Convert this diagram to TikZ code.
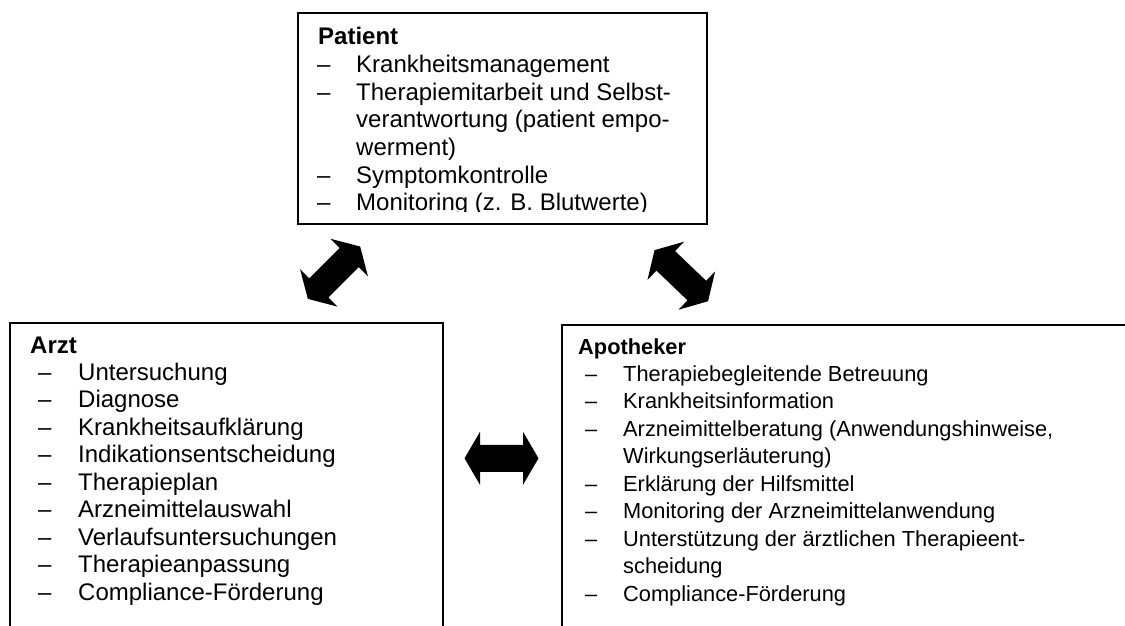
\documentclass[tikz,border=0pt]{standalone}
\usepackage{fontspec}
\setmainfont{Liberation Sans}
\begin{document}
\begin{tikzpicture}[x=1pt,y=-1pt,
  box/.style={draw=black, line width=1.8pt, rectangle, inner sep=0pt, anchor=north west},
  txt/.style={anchor=base west, inner sep=0pt, font=\fontsize{24}{27.5}\selectfont},
  ttl/.style={anchor=base west, inner sep=0pt, font=\fontsize{24}{27.5}\selectfont\bfseries},
  stxt/.style={anchor=base west, inner sep=0pt, font=\fontsize{21.8}{27.5}\selectfont},
  sttl/.style={anchor=base west, inner sep=0pt, font=\fontsize{21.8}{27.5}\selectfont\bfseries},
  blockarrow/.style={fill=black}]
\useasboundingbox (0,0) rectangle (1125,626);
\clip (0,0) rectangle (1125,626);

% boxes
\node[box, minimum width=409pt, minimum height=211pt] (patient) at (297,12) {};
\node[box, minimum width=433pt, minimum height=400pt] (arzt) at (9,322) {};
\node[box, minimum width=620pt, minimum height=400pt] (apotheker) at (561,324) {};

% Patient text (clipped at inner bottom)
\begin{scope}
\clip (297,12) rectangle (706,211);
\node[ttl] (ptitle) at (318,45) {Patient};
\node[txt] (pd1) at (317,73) {–};
\node[txt] (p1) at (356,73) {Krankheitsmanagement};
\node[txt] (pd2) at (317,100.5) {–};
\node[txt] (p2) at (356,100.5) {Therapiemitarbeit und Selbst-};
\node[txt] (p2b) at (356,128) {verantwortung (patient empo-};
\node[txt] (p2c) at (356,155.5) {werment)};
\node[txt] (pd3) at (317,183) {–};
\node[txt] (p3) at (356,183) {Symptomkontrolle};
\node[txt] (pd4) at (317,210.5) {–};
\node[txt] (p4) at (356,210.5) {Monitoring (z. B. Blutwerte)};
\end{scope}

% Arzt text
\node[ttl] (atitle) at (30,353.5) {Arzt};
\foreach \yy/\ttext [count=\i] in {380/{Untersuchung},407.5/{Diagnose},435/{Krankheitsaufklärung},462.5/{Indikationsentscheidung},490/{Therapieplan},517.5/{Arzneimittelauswahl},545/{Verlaufsuntersuchungen},572.5/{Therapieanpassung},600/{Compliance-Förderung}}{
  \node[txt] (ad\i) at (38,\yy) {–};
  \node[txt] (a\i) at (78,\yy) {\ttext};
}

% Apotheker text
\node[sttl] (aptitle) at (578,354) {Apotheker};
\foreach \yy/\ttext [count=\i] in {381/{Therapiebegleitende Betreuung},408.5/{Krankheitsinformation},436/{Arzneimittelberatung (Anwendungshinweise,},491/{Erklärung der Hilfsmittel},518.5/{Monitoring der Arzneimittelanwendung},546/{Unterstützung der ärztlichen Therapieent-},601/{Compliance-Förderung}}{
  \node[stxt] (bd\i) at (585,\yy) {–};
  \node[stxt] (b\i) at (623,\yy) {\ttext};
}
\node[stxt] (b3b) at (623,463.5) {Wirkungserläuterung)};
\node[stxt] (b6b) at (623,573.5) {scheidung};

% block arrows
\foreach \cx/\cy/\ang [count=\i] in {334/272.7/45, 681.3/275.7/-43.7, 501.5/458.3/0}{
  \begin{scope}[shift={(\cx,\cy)}, rotate=\ang]
    \fill[blockarrow] (-37,0) -- (-21.5,26.5) -- (-21.5,13.5) -- (21.5,13.5) -- (21.5,26.5)
      -- (37,0) -- (21.5,-26.5) -- (21.5,-13.5) -- (-21.5,-13.5) -- (-21.5,-26.5) -- cycle;
  \end{scope}
}
\end{tikzpicture}
\end{document}
